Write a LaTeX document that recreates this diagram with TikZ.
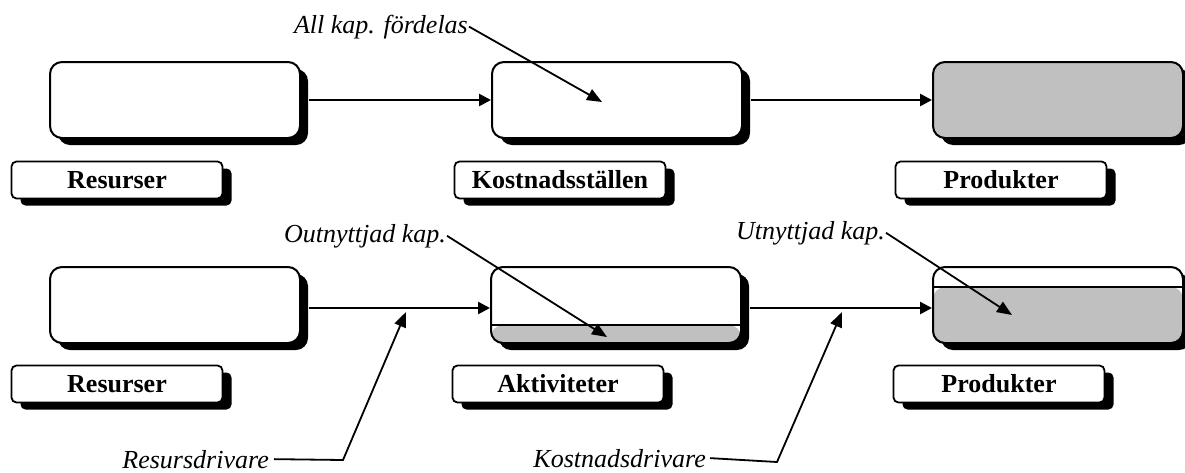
\documentclass[tikz,border=0pt]{standalone}
\usepackage{fontspec}
\setmainfont{Liberation Serif}
\usetikzlibrary{arrows.meta,shadows}
\definecolor{capgray}{RGB}{192,192,192}
\begin{document}
\begin{tikzpicture}[x=1pt,y=-1pt,
  bigbox/.style={draw, line width=2pt, rounded corners=12pt, fill=white,
    minimum width=250pt, minimum height=76pt, inner sep=0pt,
    drop shadow={fill=black, opacity=1, shadow xshift=8pt, shadow yshift=-7pt}},
  lblbox/.style={draw, line width=1.8pt, rounded corners=5pt, fill=white,
    minimum width=211pt, minimum height=37pt, inner sep=0pt,
    font=\fontsize{26}{30}\selectfont\bfseries,
    drop shadow={fill=black, opacity=1, shadow xshift=9pt, shadow yshift=-7pt}},
  note/.style={font=\fontsize{26}{30}\selectfont\itshape, inner sep=1pt},
  flow/.style={line width=2.6pt, -{Triangle[length=12pt,width=12pt]}},
  pointer/.style={line width=1.8pt, -{Triangle[length=15pt,width=12pt]}},
]
\useasboundingbox (0,0) rectangle (1185,472);

% top row
\node[bigbox] (b1) at (175,100) {};
\node[bigbox] (b2) at (617,100) {};
\node[bigbox, fill=capgray] (b3) at (1058,100) {};
\node[lblbox] (l1) at (117,180) {Resurser};
\node[lblbox] (l2) at (560,180) {Kostnadsställen};
\node[lblbox] (l3) at (1001,180) {Produkter};
\draw[flow] ([xshift=8pt]b1.east) -- (b2.west);
\draw[flow] ([xshift=8pt]b2.east) -- (b3.west);

% bottom row
\node[bigbox] (b4) at (175,305) {};
\node[bigbox, path picture={
    \fill[capgray] ([yshift=18pt]path picture bounding box.south west) rectangle (path picture bounding box.south east);
    \draw[line width=2pt] ([yshift=18pt]path picture bounding box.south west) -- ([yshift=18pt]path picture bounding box.south east);}]
  (b5) at (616,305) {};
\node[bigbox, path picture={
    \fill[capgray] ([yshift=56pt]path picture bounding box.south west) rectangle (path picture bounding box.south east);
    \draw[line width=2pt] ([yshift=56pt]path picture bounding box.south west) -- ([yshift=56pt]path picture bounding box.south east);}]
  (b6) at (1058,305) {};
\node[lblbox] (l4) at (117,384) {Resurser};
\node[lblbox] (l5) at (558,384) {Aktiviteter};
\node[lblbox] (l6) at (999,384) {Produkter};
\coordinate (a45) at ([xshift=8pt,yshift=-3pt]b4.east);
\coordinate (a56) at ([xshift=8pt,yshift=-3pt]b5.east);
\draw[flow] (a45) -- ([yshift=-3pt]b5.west);
\draw[flow] (a56) -- ([yshift=-3pt]b6.west);

% annotations
\node[note, anchor=base east] (all) at (469,33) {All kap. fördelas};
\coordinate (allt) at (602,102);
\draw[pointer] (all.east) -- (allt);

\node[note, anchor=base east] (out) at (447,242) {Outnyttjad kap.};
\coordinate (outt) at (607,337);
\draw[pointer] (out.east) -- (outt);

\node[note, anchor=base east] (utn) at (886,239) {Utnyttjad kap.};
\coordinate (utnt) at (1012,315);
\draw[pointer] (utn.east) -- (utnt);

\node[note, anchor=base east] (rd) at (270,468) {Resursdrivare};
\coordinate (rdk) at (343,460);
\coordinate (rdt) at (406,312);
\draw[pointer] ([xshift=4pt]rd.east) -- (rdk) -- (rdt);

\node[note, anchor=base east] (kd) at (707,467) {Kostnadsdrivare};
\coordinate (kdk) at (777,462);
\coordinate (kdt) at (842,312);
\draw[pointer] ([xshift=3pt]kd.east) -- (kdk) -- (kdt);
\end{tikzpicture}
\end{document}
